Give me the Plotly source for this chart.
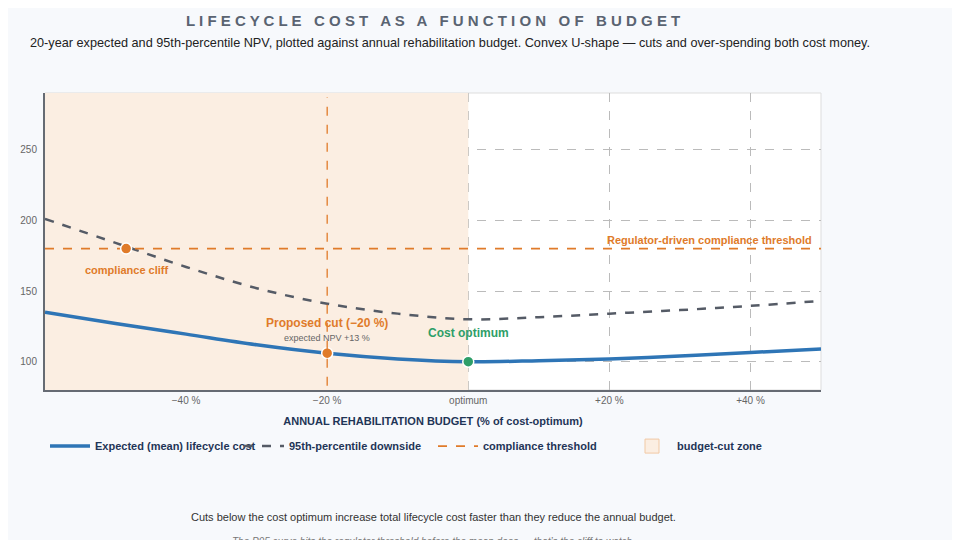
import plotly.graph_objects as go

budget = [-60, -50, -40, -30, -20, -10, 0, 10, 20, 30, 40, 50]
mean_cost = [135, 127, 119.5, 112, 106, 102, 100, 100.7, 102, 104, 106.5, 109]
p95_cost = [201, 184, 167, 152, 141, 134, 130, 131.5, 134, 136.5, 139.5, 143]
threshold = 180
cliff_x, cliff_y = -48.5, 180
cut_x, cut_y = -20, 106
opt_x, opt_y = 0, 100
zone_x = [-60, 0, 0, -60]
zone_y = [80, 80, 290, 290]
tick_vals = [-40, -20, 0, 20, 40]
tick_text = ["\u221240 %", "\u221220 %", "optimum", "+20 %", "+40 %"]

ORANGE = "#e07b2a"
BLUE = "#2e75b6"
GREY = "#555b66"
GREEN = "#2e9e68"
NAVY = "#1f3557"

fig = go.Figure()
# shaded budget-cut zone as a trace so it covers the gridlines
fig.add_trace(go.Scatter(x=zone_x, y=zone_y, fill="toself", fillcolor="#fbeee2", mode="none",
                         showlegend=False, hoverinfo="skip"))
fig.add_trace(go.Scatter(x=budget, y=mean_cost, mode="lines", name="Expected (mean) lifecycle cost",
                         line=dict(color=BLUE, width=3.5, shape="spline")))
fig.add_trace(go.Scatter(x=budget, y=p95_cost, mode="lines", name="95th-percentile downside",
                         line=dict(color=GREY, width=2.5, dash="dash", shape="spline")))
fig.add_trace(go.Scatter(x=[budget[0], budget[-1]], y=[threshold, threshold], mode="lines",
                         name="compliance threshold", line=dict(color=ORANGE, width=1.8, dash="dash")))
fig.add_trace(go.Scatter(x=[None], y=[None], mode="markers", name="budget-cut zone",
                         marker=dict(symbol="square", size=14, color="#fbeee2",
                                     line=dict(color="#f1c9a4", width=1))))
fig.add_trace(go.Scatter(x=[cliff_x, cut_x], y=[cliff_y, cut_y], mode="markers", showlegend=False,
                         marker=dict(color=ORANGE, size=11, line=dict(color="white", width=1.5))))
fig.add_trace(go.Scatter(x=[opt_x], y=[opt_y], mode="markers", showlegend=False,
                         marker=dict(color=GREEN, size=11, line=dict(color="white", width=1.5))))

fig.add_shape(type="line", xref="x", yref="y", x0=cut_x, x1=cut_x, y0=83, y1=287,
              line=dict(color=ORANGE, width=1.3, dash="dash"))

fig.add_annotation(x=cliff_x, y=cliff_y, text="<b>compliance cliff</b>", showarrow=False,
                   yshift=-21, font=dict(color=ORANGE, size=11))
fig.add_annotation(x=cut_x, y=cut_y, text="<b>Proposed cut (\u221220 %)</b>", showarrow=False,
                   yshift=30, font=dict(color=ORANGE, size=12))
fig.add_annotation(x=cut_x, y=cut_y, text="expected NPV +13 %", showarrow=False,
                   yshift=15, font=dict(color="#666", size=9))
fig.add_annotation(x=opt_x, y=opt_y, text="<b>Cost optimum</b>", showarrow=False,
                   yshift=29, font=dict(color=GREEN, size=12))
fig.add_annotation(x=49, y=threshold, text="<b>Regulator-driven compliance threshold</b>",
                   showarrow=False, xanchor="right", yanchor="bottom", yshift=1,
                   font=dict(color=ORANGE, size=11))

title = "   ".join(" ".join(w) for w in "LIFECYCLE COST AS A FUNCTION OF BUDGET".split())
fig.add_annotation(xref="paper", yref="paper", x=0.5, y=1.28, text="<b>" + title + "</b>",
                   showarrow=False, font=dict(size=15, color="#5a6472"))
fig.add_annotation(xref="paper", x=-0.022, xanchor="left", yref="paper", y=1.2,
                   text="20-year expected and 95th-percentile NPV, plotted against annual rehabilitation budget. "
                        "Convex U-shape \u2014 cuts and over-spending both cost money.",
                   showarrow=False, font=dict(size=12.7, color="#222"))
fig.add_annotation(xref="paper", yref="paper", x=0.5, y=-0.40, yanchor="top",
                   text="Cuts below the cost optimum increase total lifecycle cost faster than they reduce the annual budget.",
                   showarrow=False, font=dict(size=11, color="#333"))
fig.add_annotation(xref="paper", yref="paper", x=0.5, y=-0.485, yanchor="top",
                   text="<i>The P95 curve hits the regulator threshold before the mean does \u2014 that\u2019s the cliff to watch.</i>",
                   showarrow=False, font=dict(size=10, color="#777"))

fig.update_layout(
    width=960, height=540,
    paper_bgcolor="#f7f9fc", plot_bgcolor="white",
    font=dict(family="Liberation Sans, Arial, sans-serif"),
    margin=dict(l=29, r=147, t=85, b=158),
    legend=dict(orientation="h", x=0.0, y=-0.14, xanchor="left", yanchor="top",
                font=dict(size=11, color=NAVY, weight="bold"), itemwidth=40,
                traceorder="normal", entrywidthmode="fraction", entrywidth=0.25),
    xaxis=dict(range=[-60, 50], tickvals=tick_vals, ticktext=tick_text, showgrid=True,
               gridcolor="#bbbbbb", griddash="dash", zeroline=False, showline=True,
               linecolor="#666b73", linewidth=2, mirror=False, tickfont=dict(size=10, color="#666"),
               title=dict(text="<b>ANNUAL REHABILITATION BUDGET (% of cost-optimum)</b>",
                          font=dict(size=11, color=NAVY), standoff=12)),
    yaxis=dict(range=[80, 290], tickvals=[100, 150, 200, 250], showgrid=True,
               gridcolor="#bbbbbb", griddash="dash", zeroline=False, showline=True,
               linecolor="#666b73", linewidth=2, tickfont=dict(size=10, color="#666"),
               ticklabelstandoff=4),
)
fig.add_shape(type="rect", xref="paper", yref="paper", x0=0, x1=1, y0=0, y1=1,
              line=dict(color="#dddddd", width=1), layer="below")
fig.write_html("out.html")
